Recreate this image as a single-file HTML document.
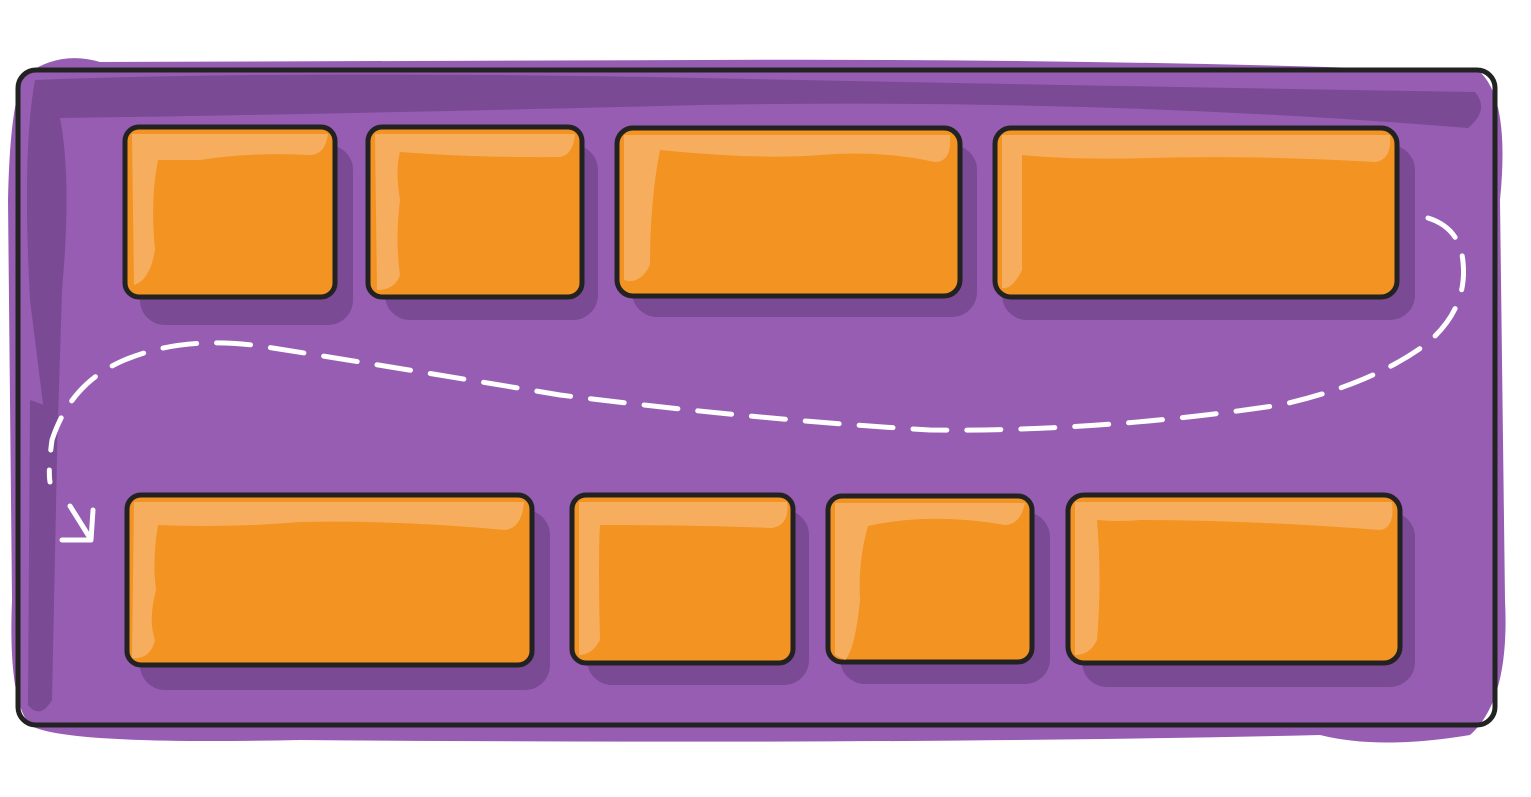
<!DOCTYPE html>
<html><head><style>html,body{margin:0;padding:0;background:#fff}svg{display:block}</style></head>
<body>
<svg width="1531" height="797" viewBox="0 0 1531 797" xmlns="http://www.w3.org/2000/svg">
<!-- purple background blob -->
<path d="M25 75 Q60 50 100 62 L700 60 Q1100 58 1480 72 Q1510 100 1500 200 L1505 600 Q1510 700 1470 735 Q1380 750 1320 735 Q900 745 300 740 Q60 745 30 725 Q8 700 12 600 L8 200 Q10 100 25 75 Z" fill="#975DB3"/>
<!-- inner dark band top & left -->
<path d="M35 80 Q300 70 700 78 Q1100 86 1475 92 Q1490 110 1468 128 Q1100 98 700 105 Q300 115 60 118 Q72 180 62 290 L58 420 L45 420 L30 300 Q22 150 35 80 Z" fill="#7B4A94"/>
<path d="M30 400 L58 410 L52 700 Q40 720 28 705 Z" fill="#7B4A94"/>
<!-- outer border -->
<rect x="18" y="70" width="1477" height="655" rx="18" fill="none" stroke="#222" stroke-width="5"/>
<g fill="#7B4A94">
<rect x="140" y="145" width="213" height="180" rx="25"/>
<rect x="385" y="145" width="213" height="175" rx="25"/>
<rect x="632" y="145" width="345" height="172" rx="25"/>
<rect x="1002" y="145" width="413" height="175" rx="25"/>
<rect x="140" y="510" width="410" height="180" rx="25"/>
<rect x="587" y="510" width="222" height="175" rx="25"/>
<rect x="840" y="512" width="210" height="172" rx="25"/>
<rect x="1082" y="512" width="333" height="175" rx="25"/>
</g>
<g stroke="#222" stroke-width="5" fill="#F39322">
<rect x="125" y="127" width="210" height="170" rx="14"/>
<rect x="368" y="127" width="214" height="170" rx="14"/>
<rect x="617" y="128" width="343" height="168" rx="16"/>
<rect x="995" y="128" width="402" height="169" rx="16"/>
<rect x="127" y="495" width="405" height="170" rx="14"/>
<rect x="572" y="495" width="221" height="168" rx="14"/>
<rect x="828" y="496" width="204" height="166" rx="14"/>
<rect x="1068" y="495" width="332" height="168" rx="16"/>
</g>
<g fill="#F6AE5E">
<path d="M132 134 H328 Q325 155 310 155 Q250 152 200 160 H158 Q150 200 155 250 Q150 280 134 285 Z"/>
<path d="M375 134 H575 Q573 155 560 157 Q480 158 400 152 Q395 170 400 200 Q395 240 400 275 Q395 290 377 290 Z"/>
<path d="M624 135 H950 Q952 162 935 162 Q880 150 820 155 Q760 160 660 150 Q650 200 650 265 Q640 285 624 280 Z"/>
<path d="M1002 135 H1390 Q1392 160 1375 162 Q1250 155 1150 158 Q1070 160 1022 155 V270 Q1012 290 1002 288 Z"/>
<path d="M134 502 H524 Q522 528 505 530 Q400 520 300 522 Q230 528 158 525 Q152 560 156 590 Q148 620 155 640 Q150 660 132 658 Z"/>
<path d="M579 502 H787 Q790 525 772 528 Q700 525 600 525 Q598 560 600 640 Q592 655 579 655 Z"/>
<path d="M835 503 H1025 Q1020 525 1005 525 Q930 512 868 526 Q858 560 860 600 Q855 650 845 660 L835 655 Z"/>
<path d="M1075 502 H1392 Q1395 528 1380 530 Q1250 520 1140 520 Q1120 522 1097 520 Q1102 580 1097 640 Q1090 655 1075 655 Z"/>
</g>
<!-- dashed path -->
<path d="M1428 218 Q1460 228 1463 262 Q1468 310 1425 345 Q1370 385 1280 405 Q1100 432 930 430 Q760 420 560 395 Q350 360 260 346 Q180 335 120 362 Q70 385 52 440 Q48 470 50 482" fill="none" stroke="#fff" stroke-width="5" stroke-linecap="round" stroke-dasharray="34 20"/>
<path d="M70 506 L90 538 M93 510 L91 540 L62 540" fill="none" stroke="#fff" stroke-width="5" stroke-linecap="round" stroke-linejoin="round"/>
</svg>
</body></html>
